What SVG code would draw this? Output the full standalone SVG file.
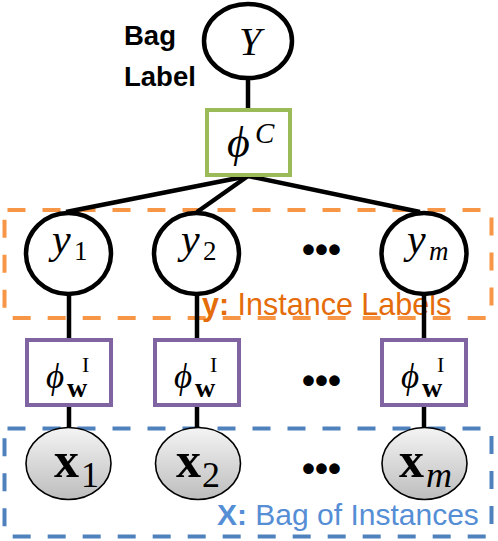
<svg xmlns="http://www.w3.org/2000/svg" width="498" height="541" viewBox="0 0 498 541">
<style>
.edge{stroke:#000;stroke-width:4.5;fill:none}
.rv{fill:#fff;stroke:#000;stroke-width:4.5}
.obs{fill:url(#g);stroke:#000;stroke-width:1.6}
.fc{fill:#fff;stroke:#9BBB59;stroke-width:4}
.fi{fill:#fff;stroke:#8064A2;stroke-width:4}
.m{font-family:"Liberation Serif","DejaVu Serif",serif;fill:#000}
.it{font-style:italic}
.b{font-weight:bold}
.lab{font-family:"Liberation Sans",Arial,sans-serif}
.dots{font-family:"Liberation Sans",Arial,sans-serif;font-weight:bold;font-size:37px;letter-spacing:0px;fill:#000}
.plate{fill:none;stroke-width:4;stroke-dasharray:18 17}
</style>
<defs>
<linearGradient id="g" x1="0" y1="0" x2="0" y2="1">
<stop offset="0" stop-color="#f4f4f4"/>
<stop offset="1" stop-color="#bdbdbd"/>
</linearGradient>
</defs>
<g id="plate-y">
<rect class="plate" x="4.5" y="210" width="487" height="108" rx="3" stroke="#F79646"/>
<text class="lab" x="202" y="315" font-size="30.5" fill="#E46C0A"><tspan font-weight="bold">y:</tspan> Instance Labels</text>
</g>
<g id="plate-x">
<rect class="plate" x="4.5" y="428.5" width="487" height="108" rx="3" stroke="#4F81BD"/>
<text class="lab" x="217" y="525" font-size="30" fill="#558ED5"><tspan font-weight="bold">X:</tspan> Bag of Instances</text>
</g>
<g id="connectors">
<line class="edge" x1="248" y1="80" x2="248" y2="110"/>
<line class="edge" x1="248" y1="176" x2="66" y2="212"/>
<line class="edge" x1="248" y1="176" x2="197" y2="212"/>
<line class="edge" x1="248" y1="176" x2="420" y2="212"/>
<line class="edge" x1="69" y1="294" x2="69" y2="340"/>
<line class="edge" x1="197" y1="294" x2="197" y2="340"/>
<line class="edge" x1="424" y1="294" x2="424" y2="340"/>
<line class="edge" x1="69" y1="405" x2="69" y2="428"/>
<line class="edge" x1="197" y1="405" x2="197" y2="428"/>
<line class="edge" x1="424" y1="405" x2="424" y2="428"/>
</g>
<g id="bag-label">
<text class="lab b" x="124" y="45" font-size="27.5">Bag</text>
<text class="lab b" x="124" y="86" font-size="27.5">Label</text>
</g>
<g id="node-Y">
<ellipse class="rv" cx="248" cy="41" rx="44" ry="37"/>
<text class="m it" x="250" y="55" font-size="40" text-anchor="middle">Y</text>
</g>
<g id="node-phiC">
<rect class="fc" x="207" y="110" width="83" height="65"/>
<text class="m"><tspan class="it" x="227" y="157" font-size="44">ϕ</tspan><tspan class="it" x="255" y="143" font-size="29">C</tspan></text>
</g>
<g id="node-y1">
<ellipse class="rv" cx="68.5" cy="253.5" rx="42.5" ry="40.5"/>
<text class="m"><tspan class="it" x="52" y="253" font-size="42">y</tspan><tspan x="74" y="260" font-size="27">1</tspan></text>
</g>
<g id="node-y2">
<ellipse class="rv" cx="196.5" cy="253.5" rx="42.5" ry="40.5"/>
<text class="m"><tspan class="it" x="181" y="253" font-size="42">y</tspan><tspan x="203" y="260" font-size="27">2</tspan></text>
</g>
<g id="node-ym">
<ellipse class="rv" cx="424" cy="253.5" rx="42.5" ry="40.5"/>
<text class="m"><tspan class="it" x="407" y="253" font-size="42">y</tspan><tspan class="it" x="429" y="260" font-size="27">m</tspan></text>
</g>
<text class="dots" x="302" y="261.5">•••</text>
<g id="node-phi1">
<rect class="fi" x="27" y="340" width="84" height="65"/>
<text class="m"><tspan class="it" x="46" y="388" font-size="35">ϕ</tspan><tspan x="82" y="372" font-size="22">I</tspan><tspan class="b" x="67" y="397" font-size="28">w</tspan></text>
</g>
<g id="node-phi2">
<rect class="fi" x="155" y="340" width="84" height="65"/>
<text class="m"><tspan class="it" x="174" y="388" font-size="35">ϕ</tspan><tspan x="210" y="372" font-size="22">I</tspan><tspan class="b" x="195" y="397" font-size="28">w</tspan></text>
</g>
<g id="node-phim">
<rect class="fi" x="382" y="340" width="84" height="65"/>
<text class="m"><tspan class="it" x="401" y="388" font-size="35">ϕ</tspan><tspan x="437" y="372" font-size="22">I</tspan><tspan class="b" x="422" y="397" font-size="28">w</tspan></text>
</g>
<text class="dots" x="302" y="393">•••</text>
<g id="node-x1">
<ellipse class="obs" cx="68.5" cy="463.5" rx="42.5" ry="36"/>
<text class="m"><tspan class="b" x="54" y="477" font-size="50">x</tspan><tspan x="81" y="487" font-size="36">1</tspan></text>
</g>
<g id="node-x2">
<ellipse class="obs" cx="198" cy="463.5" rx="42.5" ry="36"/>
<text class="m"><tspan class="b" x="176" y="477" font-size="50">x</tspan><tspan x="202" y="487" font-size="36">2</tspan></text>
</g>
<g id="node-xm">
<ellipse class="obs" cx="424.5" cy="463.5" rx="42.5" ry="36"/>
<text class="m"><tspan class="b" x="399" y="477" font-size="50">x</tspan><tspan class="it" x="426" y="487" font-size="36">m</tspan></text>
</g>
<text class="dots" x="302" y="481">•••</text>
</svg>
